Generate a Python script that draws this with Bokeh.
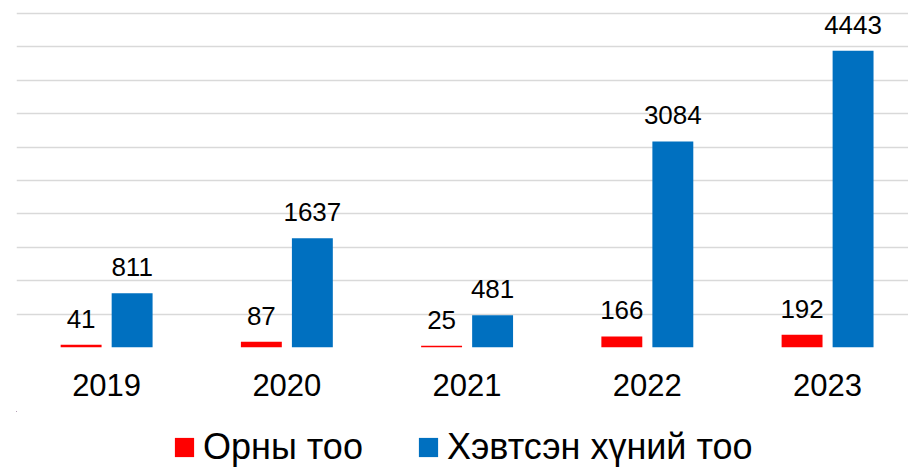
from bokeh.plotting import figure
from bokeh.layouts import column
from bokeh.models import ColumnDataSource, Range1d, FixedTicker, LabelSet, Legend, LegendItem
from bokeh.core.properties import value
from bokeh.transform import dodge
from bokeh.embed import file_html
from bokeh.resources import INLINE

# ---- data ----
years = ["2019", "2020", "2021", "2022", "2023"]
beds = [41, 87, 25, 166, 192]            # Орны тоо
patients = [811, 1637, 481, 3084, 4443]  # Хэвтсэн хүний тоо
series_names = ["Орны тоо", "Хэвтсэн хүний тоо"]
y_ticks = list(range(0, 5001, 500))

FONT = "Liberation Sans"
RED = "#FF0000"
BLUE = "#0070C0"

xpos = list(range(len(years)))
src = ColumnDataSource(dict(
    x=xpos,
    beds=beds,
    patients=patients,
    beds_lbl=[str(v) for v in beds],
    pat_lbl=[str(v) for v in patients],
))

p = figure(width=908, height=411,
           x_range=Range1d(-0.5, 4.449), y_range=Range1d(0, 5045),
           output_backend="svg", toolbar_location=None,
           min_border_left=16, min_border_right=0, min_border_top=10, min_border_bottom=64)

off = 0.1415
bw = 0.227
r1 = p.vbar(x=dodge("x", -off, range=p.x_range), top="beds", width=bw,
            fill_color=RED, line_color=None, source=src)
r2 = p.vbar(x=dodge("x", off, range=p.x_range), top="patients", width=bw,
            fill_color=BLUE, line_color=None, source=src)

for col, lbl, d in (("beds", "beds_lbl", -off), ("patients", "pat_lbl", off)):
    ls = LabelSet(x=dodge("x", d, range=p.x_range), y=col, text=lbl, source=src,
                  text_align="center", text_baseline="alphabetic", y_offset=17,
                  text_font=value(FONT), text_font_size=value("26px"), text_color="#000000")
    p.add_layout(ls)

# axes
p.xaxis.ticker = FixedTicker(ticks=xpos)
p.xaxis.major_label_overrides = {i: y for i, y in zip(xpos, years)}
p.xaxis.major_label_text_font = FONT
p.xaxis.major_label_text_font_size = "31px"
p.xaxis.major_label_text_color = "#000000"
p.xaxis.axis_line_color = None
p.xaxis.major_tick_line_color = None
p.xaxis.minor_tick_line_color = None
p.xaxis.major_tick_out = 0
p.xaxis.major_tick_in = 0
p.xaxis.minor_tick_out = 0
p.xaxis.minor_tick_in = 0
p.xaxis.major_label_standoff = 26

p.yaxis.ticker = FixedTicker(ticks=y_ticks)
p.yaxis.visible = False
p.ygrid.grid_line_color = "#D9D9D9"
p.ygrid.grid_line_width = 1.5
p.xgrid.grid_line_color = None
p.outline_line_color = None

# ---- legend strip below the chart ----
# proxy renderers use the same data, but the strip's ranges lie far away from it,
# so only their legend swatches are visible
leg = figure(width=908, height=56, x_range=Range1d(100, 101), y_range=Range1d(-1001, -1000),
             output_backend="svg", toolbar_location=None,
             x_axis_type=None, y_axis_type=None,
             min_border_left=0, min_border_right=0, min_border_top=0, min_border_bottom=0)
leg.outline_line_color = None
leg.xgrid.visible = False
leg.ygrid.visible = False
d1 = leg.vbar(x="x", top="beds", width=0.1, fill_color=RED, line_color=None, source=src)
d2 = leg.vbar(x="x", top="patients", width=0.1, fill_color=BLUE, line_color=None, source=src)

legend = Legend(items=[LegendItem(label=series_names[0], renderers=[d1]),
                       LegendItem(label=series_names[1], renderers=[d2])],
                orientation="horizontal", location=(156, -1),
                label_text_font=FONT, label_text_font_size="36px", label_text_color="#000000",
                glyph_width=24, glyph_height=24, label_standoff=7, spacing=53,
                border_line_alpha=0, background_fill_alpha=0, padding=0, margin=0)
leg.add_layout(legend, "center")

layout = column(p, leg, spacing=0)
open("out.html", "w").write(file_html(layout, INLINE))
